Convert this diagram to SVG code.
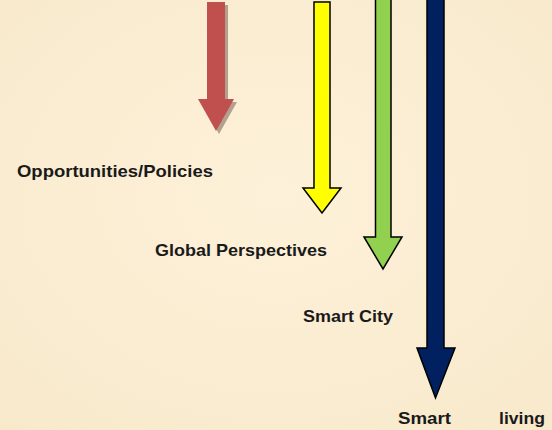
<svg xmlns="http://www.w3.org/2000/svg" width="552" height="430" viewBox="0 0 552 430">
  <defs>
    <style>
      .lbl { font-family: "Liberation Sans", Arial, sans-serif; font-weight: bold; font-size: 17px; fill: #1a1a1a; }
      .arr { stroke: #000; stroke-width: 1.5; stroke-linejoin: miter; }
    </style>
    <radialGradient id="bg" cx="50%" cy="45%" r="75%">
      <stop offset="0" stop-color="#fdf1d9"/>
      <stop offset="1" stop-color="#f8e9cb"/>
    </radialGradient>
  </defs>
  <rect x="0" y="0" width="552" height="430" fill="url(#bg)"/>

  <g id="connectors">
    <g id="arrow-red">
      <polygon points="210,5 228,5 228,102 237,102 219,134 201,102 210,102" fill="#8c7468" opacity="0.65"/>
      <polygon points="207,2 225,2 225,99 234,99 216,131 198,99 207,99" fill="#c0504d"/>
    </g>
    <g id="arrow-yellow">
      <polygon class="arr" points="314,2 330,2 330,188 341,188 322,213 303,188 314,188" fill="#ffff00"/>
    </g>
    <g id="arrow-green">
      <polygon class="arr" points="375.5,-2 391,-2 391,237 402,237 383,269 364,237 375.5,237" fill="#92d050"/>
    </g>
    <g id="arrow-navy">
      <polygon class="arr" points="427,-2 444,-2 444,348 455,348 435.5,398 417,348 427,348" fill="#002060"/>
    </g>
  </g>

  <g id="label-opportunities">
    <text class="lbl" x="17" y="177" textLength="196" lengthAdjust="spacingAndGlyphs">Opportunities/Policies</text>
  </g>
  <g id="label-global">
    <text class="lbl" x="155" y="256" textLength="172" lengthAdjust="spacingAndGlyphs">Global Perspectives</text>
  </g>
  <g id="label-smartcity">
    <text class="lbl" x="303" y="322" textLength="90" lengthAdjust="spacingAndGlyphs">Smart City</text>
  </g>
  <g id="label-smartliving">
    <text class="lbl" x="398" y="424" textLength="53" lengthAdjust="spacingAndGlyphs">Smart</text>
    <text class="lbl" x="499" y="424" textLength="46" lengthAdjust="spacingAndGlyphs">living</text>
  </g>
</svg>
